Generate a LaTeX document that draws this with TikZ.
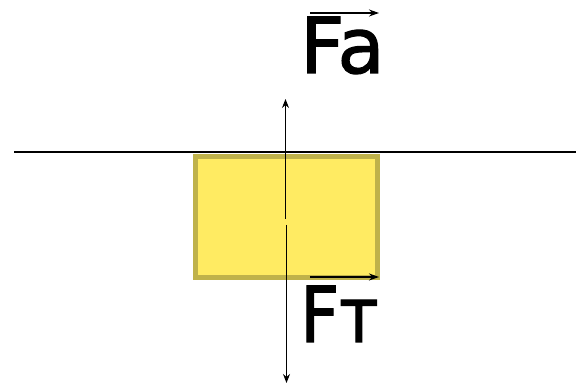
\documentclass[tikz,border=0pt]{standalone}
\usepackage{fontspec}
\usepackage{graphicx}
\setmainfont{DejaVu Sans}
\newfontfamily\labelfont[FakeBold=1.6]{DejaVu Sans}
\usetikzlibrary{arrows.meta}
\definecolor{bodyfill}{HTML}{FFEB62}
\definecolor{bodyedge}{HTML}{BFB24A}
\tikzset{
  surface/.style={line width=1.6pt, black},
  body/.style={draw=bodyedge, fill=bodyfill, line width=5pt, minimum width=182pt, minimum height=121pt, inner sep=0pt},
  force/.style={line width=1.2pt, -{Stealth[length=9pt,width=7pt]}},
  vec/.style={line width=1.3pt, -{Stealth[length=10pt,width=7pt]}},
  label/.style={font=\fontsize{77}{80}\labelfont, inner sep=0pt, anchor=base west}
}
\begin{document}
\begin{tikzpicture}[x=1pt, y=-1pt]
\useasboundingbox (0,0) rectangle (576,387);
% body in the liquid
\node[body] (body) at (286.5,217) {};
\coordinate (surfL) at (14,152);
\coordinate (surfR) at (576,152);
\draw[surface] (surfL) -- (surfR);
% forces
\coordinate (upStart) at (285.5,219);
\coordinate (upEnd) at (285.5,99);
\coordinate (downStart) at (286.5,225);
\coordinate (downEnd) at (286.5,383);
\draw[force] (upStart) -- (upEnd);
\draw[force] (downStart) -- (downEnd);
% labels
\node[label] (fa) at (300,73) {Fa};
\node[label] (ft) at (300,342) {\scalebox{0.88}[1]{Fт}};
\coordinate (faL) at (310,13);
\coordinate (faR) at (379,13);
\coordinate (ftL) at (310,277);
\coordinate (ftR) at (379,277);
\draw[vec] (faL) -- (faR);
\draw[vec] (ftL) -- (ftR);
\end{tikzpicture}
\end{document}
